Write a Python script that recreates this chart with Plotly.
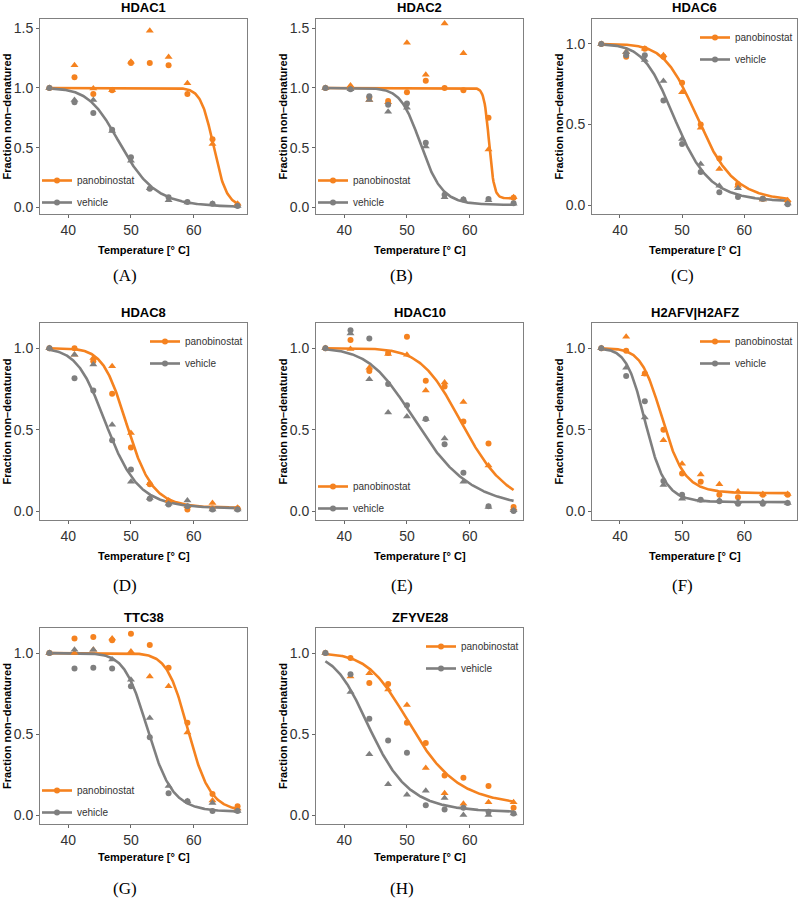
import numpy as np
import plotly.graph_objects as go

# ---------------- data ----------------
temps = [37, 41, 44, 47, 50, 53, 56, 59, 63, 67]
proteins = ["HDAC1", "HDAC2", "HDAC6", "HDAC8", "HDAC10", "H2AFV|H2AFZ", "TTC38", "ZFYVE28"]
captions = ["(A)", "(B)", "(C)", "(D)", "(E)", "(F)", "(G)", "(H)"]

# panobinostat, replicate 1 (circles)
pano_rep1 = {
    "HDAC1":       [1.0, 1.09, 0.95, 0.98, 1.21, 1.21, 1.19, 0.95, 0.57, 0.02],
    "HDAC2":       [1.0, 1.00, 0.92, 0.89, 0.965, 1.06, 1.00, 0.98, 0.75, 0.08],
    "HDAC6":       [1.0, 0.92, 0.97, 0.92, 0.76, 0.50, 0.29, 0.13, 0.04, 0.02],
    "HDAC8":       [1.0, 1.00, 0.92, 0.72, 0.39, 0.165, 0.06, 0.01, 0.015, 0.015],
    "HDAC10":      [1.0, 1.05, 0.86, 0.97, 1.07, 0.80, 0.765, 0.55, 0.415, 0.025],
    "H2AFV|H2AFZ": [1.0, 0.985, 0.845, 0.50, 0.23, 0.18, 0.10, 0.085, 0.10, 0.10],
    "TTC38":       [1.0, 1.09, 1.10, 1.08, 1.12, 1.05, 0.91, 0.57, 0.13, 0.055],
    "ZFYVE28":     [1.0, 0.97, 0.815, 0.81, 0.57, 0.445, 0.245, 0.23, 0.18, 0.045],
}
# panobinostat, replicate 2 (triangles)
pano_rep2 = {
    "HDAC1":       [1.0, 1.19, 0.995, 0.98, 1.22, 1.48, 1.26, 1.04, 0.53, 0.03],
    "HDAC2":       [1.0, 1.02, 0.90, 0.88, 1.38, 1.11, 1.54, 1.29, 0.485, 0.085],
    "HDAC6":       [1.0, 0.95, 0.97, 0.93, 0.70, 0.48, 0.225, 0.12, 0.035, 0.03],
    "HDAC8":       [1.0, 0.96, 0.94, 0.89, 0.48, 0.17, 0.065, 0.03, 0.05, 0.02],
    "HDAC10":      [1.0, 0.995, 0.88, 0.965, 0.96, 0.74, 0.79, 0.67, 0.28, 0.015],
    "H2AFV|H2AFZ": [1.0, 1.07, 0.84, 0.435, 0.29, 0.225, 0.165, 0.12, 0.105, 0.105],
    "TTC38":       [1.0, 1.00, 1.02, 1.09, 1.01, 0.855, 0.795, 0.51, 0.09, 0.04],
    "ZFYVE28":     [1.0, 0.855, 0.875, 0.775, 0.68, 0.29, 0.135, 0.07, 0.08, 0.08],
}
# vehicle, replicate 1 (circles)
veh_rep1 = {
    "HDAC1":       [1.0, 0.88, 0.79, 0.65, 0.42, 0.155, 0.085, 0.045, 0.03, 0.01],
    "HDAC2":       [1.0, 0.99, 0.93, 0.86, 0.87, 0.54, 0.105, 0.065, 0.07, 0.035],
    "HDAC6":       [1.0, 0.93, 0.93, 0.65, 0.38, 0.205, 0.08, 0.05, 0.04, 0.005],
    "HDAC8":       [1.0, 0.815, 0.74, 0.435, 0.255, 0.075, 0.04, 0.03, 0.01, 0.01],
    "HDAC10":      [1.0, 1.11, 1.06, 0.78, 0.65, 0.565, 0.41, 0.235, 0.03, 0.0],
    "H2AFV|H2AFZ": [1.0, 0.83, 0.675, 0.185, 0.10, 0.07, 0.06, 0.045, 0.045, 0.05],
    "TTC38":       [1.0, 0.905, 0.91, 0.905, 0.795, 0.48, 0.135, 0.085, 0.025, 0.025],
    "ZFYVE28":     [1.0, 0.87, 0.595, 0.46, 0.385, 0.06, 0.035, 0.045, 0.02, 0.01],
}
# vehicle, replicate 2 (triangles)
veh_rep2 = {
    "HDAC1":       [1.0, 0.90, 0.90, 0.64, 0.39, 0.16, 0.06, 0.04, 0.03, 0.01],
    "HDAC2":       [1.0, 0.99, 0.90, 0.80, 0.835, 0.51, 0.085, 0.065, 0.06, 0.03],
    "HDAC6":       [1.0, 0.95, 0.90, 0.77, 0.41, 0.255, 0.12, 0.105, 0.035, 0.01],
    "HDAC8":       [1.0, 0.96, 0.90, 0.53, 0.18, 0.08, 0.045, 0.065, 0.01, 0.01],
    "HDAC10":      [1.0, 1.09, 0.81, 0.605, 0.58, 0.565, 0.445, 0.18, 0.025, 0.005],
    "H2AFV|H2AFZ": [1.0, 0.88, 0.575, 0.16, 0.075, 0.065, 0.065, 0.055, 0.055, 0.05],
    "TTC38":       [1.0, 1.02, 1.02, 0.96, 0.835, 0.60, 0.18, 0.085, 0.075, 0.025],
    "ZFYVE28":     [1.0, 0.76, 0.375, 0.19, 0.125, 0.15, 0.105, 0.0, 0.0, 0.01],
}

# fitted melting curves: (inflection temperature, slope, plateau)
pano_fit = {
    "HDAC1": (63.2, 0.97, 0.0), "HDAC2": (63.1, 2.5, 0.075), "HDAC6": (52.8, 0.35, 0.02),
    "HDAC8": (49.5, 0.50, 0.02), "HDAC10": (59.3, 0.28, 0.0), "H2AFV|H2AFZ": (46.9, 0.57, 0.11),
    "TTC38": (59.2, 0.58, 0.02), "ZFYVE28": (51.0, 0.27, 0.05),
}
veh_fit = {
    "HDAC1": (48.6, 0.37, 0.0), "HDAC2": (52.3, 0.60, 0.02), "HDAC6": (49.1, 0.37, 0.02),
    "HDAC8": (46.3, 0.40, 0.015), "HDAC10": (52.2, 0.235, 0.0), "H2AFV|H2AFZ": (44.2, 0.64, 0.055),
    "TTC38": (52.8, 0.52, 0.02), "ZFYVE28": (44.4, 0.33, 0.015),
}

legend_corner = ["bl", "bl", "tr", "tr", "bl", "tr", "bl", "tr"]

# ---------------- styling ----------------
ORANGE = "#F5821F"
GREY = "#7F7F7F"
W, H = 800, 899
col_left = [40, 316, 592]
col_right = [247, 523, 797]
row_top = [19, 323, 628]
row_bot = [214, 520, 824]
xtitle_y = [250, 556, 857]
caption_y = [276, 585, 888]
caption_x = [125, 402, 682]
SANS = "Liberation Sans"


def sigmoid(t, tm, k, pl):
    t = np.asarray(t, dtype=float)
    return (1 - pl) / (1 + np.exp(k * tm * (t - tm) / t)) + pl


t_grid = np.linspace(min(temps), max(temps), 301)

fig = go.Figure()
annotations = []
layout = {}

for i, p in enumerate(proteins):
    r, c = divmod(i, 3)
    n = i + 1
    xa = "x" if n == 1 else f"x{n}"
    ya = "y" if n == 1 else f"y{n}"
    leg = "legend" if n == 1 else f"legend{n}"

    for fit, col in ((pano_fit, ORANGE), (veh_fit, GREY)):
        tm, k, pl = fit[p]
        fig.add_trace(go.Scatter(x=t_grid, y=sigmoid(t_grid, tm, k, pl), mode="lines",
                                 line=dict(color=col, width=2.6), showlegend=False,
                                 xaxis=xa, yaxis=ya, hoverinfo="skip"))
    for series, col, sym, sz in ((pano_rep1, ORANGE, "circle", 6), (pano_rep2, ORANGE, "triangle-up", 7),
                                 (veh_rep1, GREY, "circle", 6), (veh_rep2, GREY, "triangle-up", 7)):
        fig.add_trace(go.Scatter(x=temps, y=series[p], mode="markers",
                                 marker=dict(color=col, symbol=sym, size=sz, line=dict(width=0)),
                                 showlegend=False, xaxis=xa, yaxis=ya))
    for name, col in (("panobinostat", ORANGE), ("vehicle", GREY)):
        fig.add_trace(go.Scatter(x=[None], y=[None], mode="lines+markers", name=name,
                                 line=dict(color=col, width=2.6), marker=dict(color=col, size=6),
                                 legend=leg, legendgroup=f"{name}{n}", showlegend=True,
                                 xaxis=xa, yaxis=ya))

    x0, x1 = col_left[c] / W, col_right[c] / W
    y0, y1 = 1 - row_bot[r] / H, 1 - row_top[r] / H
    yr = [-0.056, 1.578] if p in ("HDAC1", "HDAC2") else [-0.055, 1.155]
    yt = [0, 0.5, 1.0, 1.5] if p in ("HDAC1", "HDAC2") else [0, 0.5, 1.0]
    axis_common = dict(showline=True, mirror=True, linecolor="#808080", linewidth=1,
                       showgrid=False, zeroline=False, ticks="outside", ticklen=3,
                       tickcolor="#666666", tickwidth=1,
                       tickfont=dict(family=SANS, size=14, color="#333333"))
    layout["xaxis" if n == 1 else f"xaxis{n}"] = dict(
        domain=[x0, x1], range=[35.5, 68.5], tickvals=[40, 50, 60], anchor=ya, **axis_common)
    layout["yaxis" if n == 1 else f"yaxis{n}"] = dict(
        domain=[y0, y1], range=yr, tickvals=yt, tickformat=".1f", anchor=xa, **axis_common)

    # legend placement
    if legend_corner[i] == "bl":
        lx = col_left[c] - 3
        ly_top = row_bot[r] - 48
    else:
        lx = col_right[c] - 102
        ly_top = row_top[r] + 4
    layout[leg] = dict(x=lx / W, y=1 - ly_top / H, xanchor="left", yanchor="top",
                       bgcolor="rgba(0,0,0,0)", itemwidth=30, traceorder="grouped",
                       tracegroupgap=3, font=dict(family=SANS, size=10, color="#333333"))

    xc = (col_left[c] + col_right[c]) / 2
    yc = (row_top[r] + row_bot[r]) / 2
    annotations.append(dict(text=p, x=xc / W, y=1 - (row_top[r] - 11) / H, xref="paper", yref="paper",
                            showarrow=False, xanchor="center", yanchor="middle",
                            font=dict(family=SANS, size=13, color="black", weight="bold")))
    annotations.append(dict(text="Temperature [° C]", x=xc / W, y=1 - xtitle_y[r] / H,
                            xref="paper", yref="paper", showarrow=False, xanchor="center",
                            yanchor="middle",
                            font=dict(family=SANS, size=11, color="black", weight="bold")))
    annotations.append(dict(text="Fraction non–denatured", x=(col_left[c] - 33) / W, y=1 - yc / H,
                            xref="paper", yref="paper", showarrow=False, textangle=-90,
                            xanchor="center", yanchor="middle",
                            font=dict(family=SANS, size=11, color="black", weight="bold")))
    annotations.append(dict(text=captions[i], x=caption_x[c] / W, y=1 - caption_y[r] / H,
                            xref="paper", yref="paper", showarrow=False, xanchor="center",
                            yanchor="middle",
                            font=dict(family="Liberation Serif", size=17, color="black")))

fig.update_layout(width=W, height=H, margin=dict(l=0, r=0, t=0, b=0),
                  paper_bgcolor="white", plot_bgcolor="white",
                  annotations=annotations, **layout)
fig.write_html("out.html", config={"displayModeBar": False},
               post_script="document.body.style.margin='0';document.body.style.overflow='hidden';")
